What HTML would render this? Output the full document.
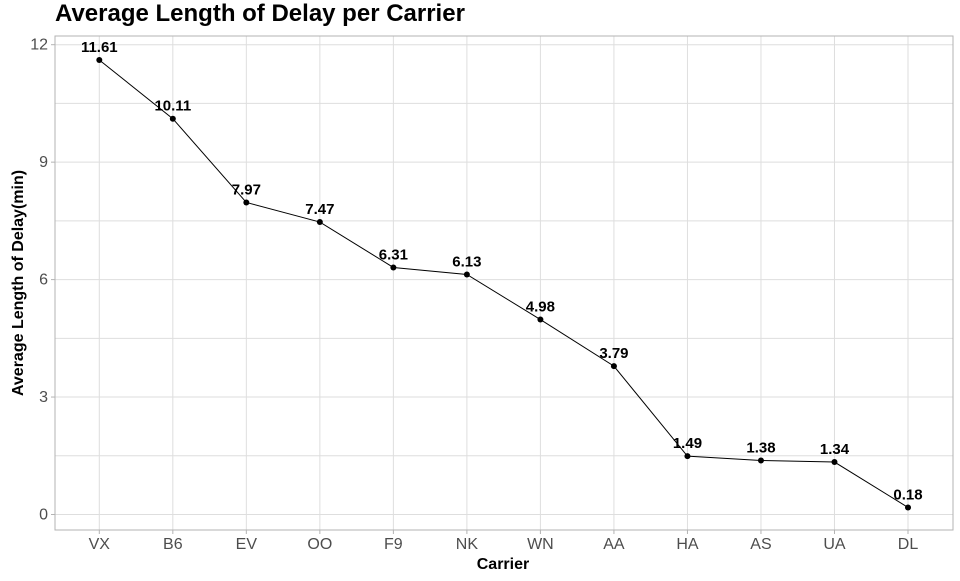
<!DOCTYPE html>
<html><head><meta charset="utf-8"><style>
body{margin:0;background:#fff;}
svg text{font-family:"Liberation Sans",sans-serif;}
</style></head><body>
<svg id="chart" width="960" height="576">
<text x="55" y="21" font-size="24" font-weight="bold" fill="#000">Average Length of Delay per Carrier</text>
<g id="grid"></g>
<rect x="55" y="36" width="898" height="494" fill="none" stroke="#b3b3b3" stroke-width="1"/>
<g id="axes"></g>
<g id="marks"></g>
<text x="503" y="569" font-size="16" font-weight="bold" text-anchor="middle">Carrier</text>
<text transform="translate(23,283) rotate(-90)" font-size="16" font-weight="bold" text-anchor="middle">Average Length of Delay(min)</text>
</svg>
<script>
const categories=["VX","B6","EV","OO","F9","NK","WN","AA","HA","AS","UA","DL"];
const values=[11.61,10.11,7.97,7.47,6.31,6.13,4.98,3.79,1.49,1.38,1.34,0.18];
const yTicks=[0,3,6,9,12];
const NS="http://www.w3.org/2000/svg";
const x=i=>99.3+i*(908-99.3)/11;
const y=v=>514.5-v*(514.5-44.7)/12;
function mk(t,a,p){const e=document.createElementNS(NS,t);for(const k in a)e.setAttribute(k,a[k]);p.appendChild(e);return e;}
const grid=document.getElementById('grid'),axes=document.getElementById('axes'),marks=document.getElementById('marks');
for(let v=0;v<=12.01;v+=1.5){const l=mk('line',{x1:55,x2:953,y1:y(v),y2:y(v),stroke:'#dedede','stroke-width':1},grid);

}
categories.forEach((c,i)=>{const l=mk('line',{x1:x(i),x2:x(i),y1:36,y2:530,stroke:'#dedede','stroke-width':1},grid);


const tk=mk('line',{x1:x(i),x2:x(i),y1:530,y2:534,stroke:'#b3b3b3'},axes);


const t=mk('text',{x:x(i),y:549,'font-size':16,fill:'#4d4d4d','text-anchor':'middle'},axes);t.textContent=c;

});
yTicks.forEach(v=>{const tk=mk('line',{x1:51,x2:55,y1:y(v),y2:y(v),stroke:'#b3b3b3'},axes);


const t=mk('text',{x:48,y:y(v)+5,'font-size':16,fill:'#4d4d4d','text-anchor':'end'},axes);t.textContent=v;

});
const pl=mk('polyline',{points:values.map((v,i)=>x(i)+','+y(v)).join(' '),fill:'none',stroke:'#000','stroke-width':1},marks);


values.forEach((v,i)=>{const c=mk('circle',{cx:x(i),cy:y(v),r:3,fill:'#000'},marks);


const t=mk('text',{x:x(i),y:y(v)-8,'font-size':15,'font-weight':'bold','text-anchor':'middle',fill:'#000'},marks);t.textContent=v.toFixed(2);

});
</script>
</body></html>
